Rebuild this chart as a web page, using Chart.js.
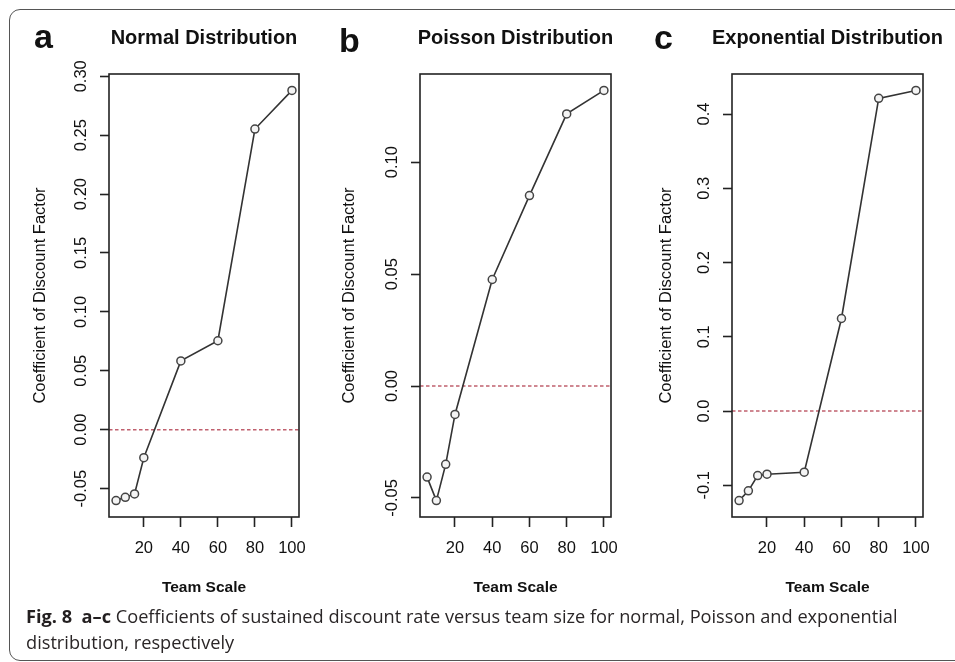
<!DOCTYPE html>
<html>
<head>
<meta charset="utf-8">
<script src="https://cdn.jsdelivr.net/npm/chart.js@4.4.1/dist/chart.umd.min.js"></script>
<style>
  body {
    margin: 0;
    width: 955px;
    height: 662px;
    overflow: hidden;
    position: relative;
    background: #fff;
    font-family: "Liberation Sans", Arial, sans-serif;
  }
  .frame {
    position: absolute;
    left: 9px;
    top: 9px;
    width: 1000px;
    height: 652px;
    border: 1px solid #555;
    border-radius: 11px;
    box-sizing: border-box;
  }
  canvas {
    position: absolute;
    top: 10px;
  }
  .caption {
    position: absolute;
    left: 26px;
    top: 603px;
    font-family: "Open Sans", sans-serif;
    font-size: 18.2px;
    line-height: 26px;
    color: #2a2627;
    white-space: nowrap;
  }
  .caption b { font-weight: 700; color: #231f20; }
</style>
</head>
<body>
<div class="frame"></div>
<canvas id="normal" width="300" height="600" style="left:29px"></canvas>
<canvas id="poisson" width="301" height="600" style="left:340px"></canvas>
<canvas id="exponential" width="301" height="600" style="left:652px"></canvas>
<div class="caption"><b>Fig. 8</b>&nbsp; <b>a–c</b> Coefficients of sustained discount rate versus team size for normal, Poisson and exponential<br>distribution, respectively</div>

<script>
// team sizes and fitted coefficients per arrival distribution
const teamScale = [5, 10, 15, 20, 40, 60, 80, 100];
const normalCoef = [-0.0602, -0.0574, -0.0545, -0.0238, 0.0584, 0.0755, 0.2552, 0.2880];
const poissonCoef = [-0.0407, -0.0512, -0.0350, -0.0127, 0.0476, 0.0851, 0.1216, 0.1321];
const expCoef = [-0.1205, -0.1074, -0.0868, -0.0850, -0.0823, 0.1247, 0.4211, 0.4318];

const xTicks = [20, 40, 60, 80, 100];
const normalTicks = [-0.05, 0, 0.05, 0.1, 0.15, 0.2, 0.25, 0.3];
const poissonTicks = [-0.05, 0, 0.05, 0.1];
const expTicks = [-0.1, 0, 0.1, 0.2, 0.3, 0.4];

const FONT = '"Liberation Sans", Arial, sans-serif';
const TICK_SIZE = 16.5;

// R style axis range: data range widened by 4% on both sides
function rRange(vals) {
  const lo = Math.min(...vals);
  const hi = Math.max(...vals);
  const pad = (hi - lo) * 0.04;
  return [lo - pad, hi + pad];
}

// chart.js centres rotated y labels using their unrotated width,
// so work out the padding that puts every label centre 28px off the box
function yLabelPad(labels, tickLen) {
  const ctx = document.createElement("canvas").getContext("2d");
  ctx.font = TICK_SIZE + "px " + FONT;
  const widest = Math.max(...labels.map(l => ctx.measureText(l).width));
  return 28 - tickLen - widest / 2;
}

// plot box, panel letter and main title
const rFrame = {
  id: "rFrame",
  afterDraw(chart, args, opts) {
    const { ctx, chartArea } = chart;
    ctx.save();
    ctx.strokeStyle = "#222";
    ctx.lineWidth = 1.6;
    ctx.strokeRect(chartArea.left, chartArea.top, chartArea.right - chartArea.left, chartArea.bottom - chartArea.top);

    ctx.fillStyle = "#111";
    ctx.textBaseline = "alphabetic";
    ctx.font = "bold 20px " + FONT;
    ctx.textAlign = "center";
    ctx.fillText(opts.title, (chartArea.left + chartArea.right) / 2, 34);

    ctx.font = "bold 34px " + FONT;
    ctx.textAlign = "left";
    ctx.fillText(opts.letter, opts.letterX, opts.letterY);
    ctx.restore();
  }
};

const xRange = rRange(teamScale);

function makePanel(id, letter, title, values, yTicks, decimals, panel) {
  const yRange = rRange(values);
  const yLabels = yTicks.map(v => v.toFixed(decimals));

  return new Chart(document.getElementById(id), {
    type: "line",
    data: {
      datasets: [
        {
          data: teamScale.map((x, i) => ({ x: x, y: values[i] })),
          borderColor: "#333",
          borderWidth: 1.6,
          pointRadius: 4,
          pointBorderWidth: 1.5,
          pointBorderColor: "#444",
          pointBackgroundColor: "#f4f4f4",
          tension: 0,
          order: 1
        },
        {
          // reference line at zero
          data: [{ x: xRange[0], y: 0 }, { x: xRange[1], y: 0 }],
          borderColor: "#c0606e",
          borderWidth: 1.5,
          borderDash: [3.5, 2.5],
          pointRadius: 0,
          order: 2
        }
      ]
    },
    options: {
      responsive: false,
      animation: false,
      events: [],
      layout: { padding: { left: 0, right: 30, top: 64, bottom: 0 } },
      plugins: {
        legend: { display: false },
        tooltip: { enabled: false },
        rFrame: { title: title, letter: letter, letterX: panel.letterX, letterY: panel.letterY }
      },
      scales: {
        x: {
          type: "linear",
          bounds: "data",
          min: xRange[0],
          max: xRange[1],
          afterBuildTicks: axis => {
            axis.ticks = xTicks.map(v => ({ value: v }));
          },
          afterFit: axis => {
            axis.height = 93;
          },
          border: { display: false },
          grid: {
            drawOnChartArea: false,
            drawTicks: true,
            tickLength: 10,
            tickColor: "#222",
            tickWidth: 1.6
          },
          ticks: {
            autoSkip: false,
            maxRotation: 0,
            padding: 12,
            color: "#111",
            font: { family: FONT, size: TICK_SIZE }
          },
          title: {
            display: true,
            text: "Team Scale",
            color: "#111",
            font: { family: FONT, size: 15.5, weight: "bold" },
            padding: { top: 0, bottom: 12.7 }
          }
        },
        y: {
          type: "linear",
          bounds: "data",
          min: yRange[0],
          max: yRange[1],
          afterBuildTicks: axis => {
            axis.ticks = yTicks.map(v => ({ value: v }));
          },
          afterFit: axis => {
            axis.width = 80;
          },
          border: { display: false },
          grid: {
            drawOnChartArea: false,
            drawTicks: true,
            tickLength: 9,
            tickColor: "#222",
            tickWidth: 1.6
          },
          ticks: {
            autoSkip: false,
            minRotation: 90,
            maxRotation: 90,
            crossAlign: "center",
            padding: yLabelPad(yLabels, 9),
            color: "#111",
            font: { family: FONT, size: TICK_SIZE },
            callback: v => v.toFixed(decimals)
          },
          title: {
            display: true,
            text: "Coefficient of Discount Factor",
            color: "#111",
            font: { family: FONT, size: 16.5 },
            padding: { top: panel.yTitlePad, bottom: 0 }
          }
        }
      }
    },
    plugins: [rFrame]
  });
}

makePanel("normal", "a", "Normal Distribution", normalCoef, normalTicks, 2,
  { letterX: 5, letterY: 37.5, yTitlePad: 2 });
makePanel("poisson", "b", "Poisson Distribution", poissonCoef, poissonTicks, 2,
  { letterX: -1, letterY: 41.5, yTitlePad: 0 });
makePanel("exponential", "c", "Exponential Distribution", expCoef, expTicks, 1,
  { letterX: 2, letterY: 38.5, yTitlePad: 5 });
</script>
</body>
</html>
